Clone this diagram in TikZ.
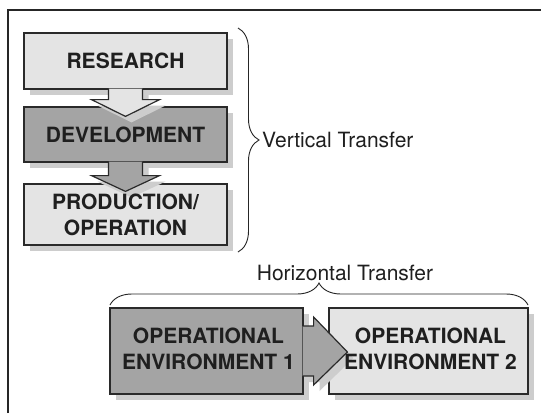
\documentclass[tikz,border=0pt]{standalone}
\usepackage{fontspec}
\setmainfont{TeX Gyre Heros}
\usetikzlibrary{calc,shadows,decorations.pathreplacing}
\definecolor{lightg}{HTML}{E4E4E4}
\definecolor{darkg}{HTML}{A4A4A4}
\definecolor{shadg}{HTML}{CDCDCD}
\definecolor{edgec}{HTML}{2A2A2A}
% vertical block arrow: #1 from node, #2 to node, #3 shaft length, #4 tip depth, #5 dx, #6 dy
\newcommand{\VArrowPath}[6]{($(#1.south)+(-17+#5,-1+#6)$) -- ($(#1.south)+(-17+#5,#3+#6)$) -- ($(#1.south)+(-34+#5,#3+#6)$) -- ($(#2.north)+(#5,#4+#6)$) -- ($(#1.south)+(34+#5,#3+#6)$) -- ($(#1.south)+(17+#5,#3+#6)$) -- ($(#1.south)+(17+#5,-1+#6)$)}
% horizontal block arrow
\newcommand{\HArrowPath}[6]{($(#1.east)+(-1+#5,-25+#6)$) -- ($(#1.east)+(#3+#5,-25+#6)$) -- ($(#1.east)+(#3+#5,-34+#6)$) -- ($(#2.west)+(#4+#5,1+#6)$) -- ($(#1.east)+(#3+#5,34+#6)$) -- ($(#1.east)+(#3+#5,25+#6)$) -- ($(#1.east)+(-1+#5,25+#6)$)}
\begin{document}
\begin{tikzpicture}[x=1pt,y=-1pt,
  box/.style={draw=edgec, line width=1.2pt, inner sep=0pt,
    copy shadow={shadow xshift=6pt, shadow yshift=-6pt, fill=shadg, draw=none}},
  boxtext/.style={align=center, inner sep=0pt,
    font=\fontsize{21}{26}\selectfont\bfseries, text=black!88},
  arrowline/.style={draw=edgec, line width=1.2pt, line join=miter},
  frameline/.style={draw=black!85, line width=1.4pt},
  bracec/.style={draw=black!85, line width=0.9pt, decorate, decoration={brace, amplitude=#1}},
  lbl/.style={inner sep=0pt, font=\fontsize{21}{25}\selectfont, text=black!88}]
\useasboundingbox (0,0) rectangle (541,413);
\fill[white] (0,0) rectangle (541,413);
% frame
\draw[frameline] (8,413) -- (8,10) -- (541,10);
% vertical chain
\node[box, fill=lightg, minimum width=203pt, minimum height=56pt] (res) at (125.5,61) {};
\node[box, fill=darkg, minimum width=203pt, minimum height=55pt] (dev) at (125.5,134.5) {};
\node[box, fill=lightg, minimum width=203pt, minimum height=61pt] (prod) at (125.5,214.5) {};
% arrow research -> development
\fill[shadg] \VArrowPath{res}{dev}{10}{10}{6}{6} -- cycle;
\fill[lightg] \VArrowPath{res}{dev}{10}{10}{0}{0} -- cycle;
\draw[arrowline] \VArrowPath{res}{dev}{10}{10}{0}{0};
% arrow development -> production
\fill[shadg] \VArrowPath{dev}{prod}{13}{8}{6}{6} -- cycle;
\fill[darkg] \VArrowPath{dev}{prod}{13}{8}{0}{0} -- cycle;
\draw[arrowline] \VArrowPath{dev}{prod}{13}{8}{0}{0};
\node[boxtext] (resT) at (res.center) {RESEARCH};
\node[boxtext] (devT) at (dev.center) {DEVELOPMENT};
\node[boxtext] (prodT) at (prod.center) {PRODUCTION/\\OPERATION};
% horizontal pair
\node[box, fill=darkg, minimum width=193pt, minimum height=86pt] (oe1) at (206.5,351) {};
\node[box, fill=lightg, minimum width=199pt, minimum height=86pt] (oe2) at (428.5,351) {};
\fill[shadg] \HArrowPath{oe1}{oe2}{10}{19}{6}{6} -- cycle;
\fill[darkg] \HArrowPath{oe1}{oe2}{10}{19}{0}{0} -- cycle;
\draw[arrowline] \HArrowPath{oe1}{oe2}{10}{19}{0}{0};
\node[boxtext] (oe1T) at ($(oe1.center)+(2,-2)$) {OPERATIONAL\\ENVIRONMENT 1};
\node[boxtext] (oe2T) at ($(oe2.center)+(2,-2)$) {OPERATIONAL\\ENVIRONMENT 2};
% braces
\coordinate (vbt) at (238,28);
\coordinate (vbb) at (238,252);
\draw[bracec=21pt] (vbt) -- (vbb);
\node[lbl, anchor=base west] (vt) at (262,147) {Vertical Transfer};
\coordinate (hbl) at (110,305);
\coordinate (hbr) at (528,305);
\draw[bracec=22pt] (hbl) -- (hbr);
\node[lbl, anchor=base] (ht) at (345,280) {Horizontal Transfer};
\end{tikzpicture}
\end{document}
